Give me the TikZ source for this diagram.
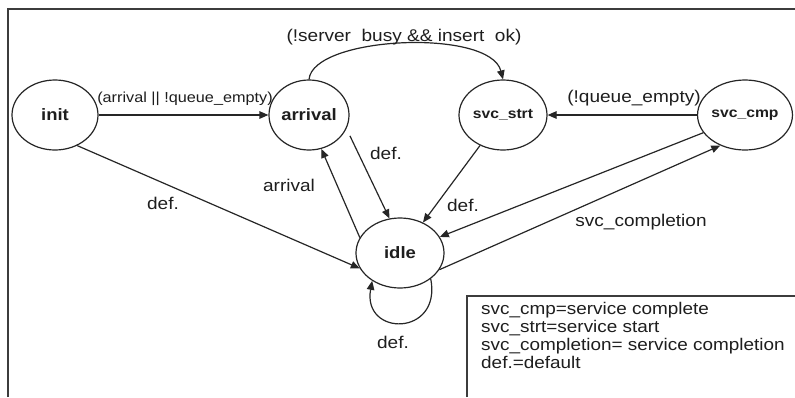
\documentclass[tikz,border=0pt]{standalone}
\usepackage{fontspec}
\setmainfont{Liberation Sans}[FakeStretch=1.12]
\usetikzlibrary{arrows.meta,shapes.geometric}
\definecolor{lc}{HTML}{262626}
\definecolor{tc}{HTML}{1E1E1E}
\definecolor{fc}{HTML}{3C3C3C}
\begin{document}
\begin{tikzpicture}[x=1pt,y=-1pt,
  state/.style={ellipse,draw=lc,line width=1.2pt,inner sep=0pt,minimum height=70pt,
    text=tc,font=\fontsize{16.5}{18}\selectfont\bfseries},
  smallstate/.style={state,font=\fontsize{14}{16}\selectfont\bfseries},
  arr/.style={draw=lc,line width=1.2pt,-{Triangle[length=9pt,width=7.5pt]}},
  lbl/.style={inner sep=0pt,text=tc,font=\fontsize{17}{19}\selectfont},
  smalllbl/.style={inner sep=0pt,text=tc,font=\fontsize{14.5}{16}\selectfont},
  frameline/.style={draw=fc,line width=1.4pt}]
\useasboundingbox (0,0) rectangle (795,397);
\fill[white] (0,0) rectangle (795,397);
% outer frame
\draw[frameline] (8,397) -- (8,9) -- (795,9);
% states
\node[state,minimum width=86pt] (init) at (55,115) {init};
\node[state,minimum width=80pt] (arrival) at (309,115) {arrival};
\node[smallstate,minimum width=88pt] (svcstrt) at (503,115) {svc\_strt};
\node[smallstate,minimum width=86pt] (svccmp) at (745,115) {svc\_cmp};
\node[state,minimum width=88pt] (idle) at (400,253) {idle};
% transitions
\draw[arr] (init.east) -- (arrival.west);
\node[smalllbl] (l1) at (185,99) {(arrival || !queue\_empty)};
\draw[arr] (arrival.north) .. controls (313,36) and (490,28) .. (svcstrt.north);
\node[lbl] (l2) at (404,37) {(!server\ \ busy \&\& insert\ \ ok)};
\draw[arr] (svccmp.west) -- (svcstrt.east);
\node[lbl] (l3) at (634,98) {(!queue\_empty)};
\draw[arr] (init.-54) -- (idle.201);
\node[lbl] (l4) at (163,203) {def.};
\draw[arr,shorten <=8pt] (arrival.-20) -- (idle.107);
\node[lbl] (l5) at (386,153) {def.};
\draw[arr] (idle.159) -- (arrival.-70);
\node[lbl] (l6) at (289,185) {arrival};
\draw[arr] (svcstrt.-127) -- (idle.53);
\node[lbl] (l7) at (463,205) {def.};
\draw[arr] (svccmp.-157) -- (idle.22);
\draw[arr] (idle.-23) -- (svccmp.-129);
\node[lbl] (l8) at (641,222) {svc\_completion};
\draw[arr] (idle.-40) .. controls (442,337) and (362,337) .. (idle.-135);
\node[lbl] (l9) at (393,342) {def.};
% legend
\draw[frameline] (467,397) -- (467,296) -- (795,296);
\node[anchor=north west,inner sep=0pt,align=left,text=tc,
  font=\fontsize{16.9}{18}\selectfont] (legend) at (481,302)
  {svc\_cmp=service complete\\
   svc\_strt=service start\\
   svc\_completion= service completion\\
   def.=default};
\end{tikzpicture}
\end{document}
